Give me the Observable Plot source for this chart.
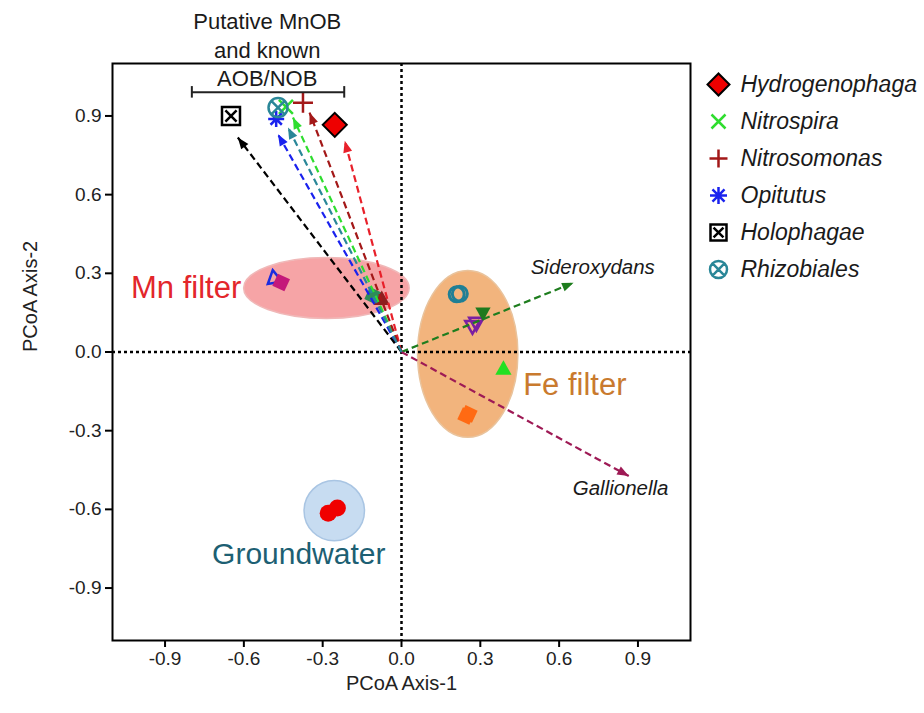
<!DOCTYPE html>
<html><head><meta charset="utf-8">
<script src="https://cdn.jsdelivr.net/npm/d3@7"></script>
<script src="https://cdn.jsdelivr.net/npm/@observablehq/plot@0.6"></script>
<style>
body{margin:0;background:#fff;font-family:"Liberation Sans",Arial,sans-serif;}
#wrap{position:relative;width:924px;height:713px;overflow:hidden;}
#legend{position:absolute;left:700px;top:60px;}
</style></head><body><div id="wrap"><div id="chart"></div><div id="legend"></div></div>
<script>
// ---- species vectors (PCoA loadings) ----
const species = ["Hydrogenophaga","Nitrospira","Nitrosomonas","Opitutus","Holophagae","Rhizobiales"];
const arrowTipX = [-0.216, -0.413, -0.35, -0.47, -0.623, -0.432];
const arrowTipY = [0.805, 0.894, 0.913, 0.83, 0.818, 0.856];
const markerX = [-0.254, -0.44, -0.375, -0.477, -0.649, -0.47];
const markerY = [0.866, 0.935, 0.95, 0.888, 0.90, 0.932];
const speciesShape = ["diamond","times","plus","asterisk","squareX","circleX"];
const speciesColor = ["#E8202A","#2FDD2F","#A31818","#1A22EE","#000000","#2A8798"];

// ---- environmental vectors ----
const envNames = ["Sideroxydans","Gallionella"];
const envTipX = [0.655, 0.865];
const envTipY = [0.264, -0.473];
const envLabelX = [0.728, 0.834];
const envLabelY = [0.324, -0.522];
const envColor = ["#1E7D1E","#9E1A55"];

// ---- sample groups (ellipses) ----
const groupNames = ["Mn filter","Fe filter","Groundwater"];
const groupCX = [-0.284, 0.254, -0.254];
const groupCY = [0.242, -0.009, -0.607];
const groupRX = [0.315, 0.191, 0.115];
const groupRY = [0.116, 0.318, 0.115];
const groupLabelX = [-0.61, 0.463, -0.391];
const groupLabelY = [0.244, -0.126, -0.77];
const groupFill = ["#F6A4A6","#F2B47D","#C7DCF1"];
const groupEdge = ["#F0B8B8","#E9C39C","#A9C5E3"];
const groupTextColor = ["#E3262B","#C97A2E","#1D5F73"];
const groupAnchor = ["end","start","middle"];
const groupFontSize = [31, 31, 30];

// ---- sample points ----
const sampleX = [-0.485, -0.458, -0.108, -0.075, 0.21, 0.222, 0.27, 0.285, 0.31, 0.388, 0.246, 0.256, -0.279, -0.244];
const sampleY = [0.282, 0.265, 0.214, 0.2, 0.22, 0.222, 0.10, 0.112, 0.15, -0.066, -0.244, -0.236, -0.615, -0.595];
const sampleShape = ["triangleOpen","squareFill","squareFill","triangleFill","ring","ring","triangleDownOpen","triangleDownOpen","triangleDownFill","triangleFill","squareFill","squareFill","circleFill","circleFill"];
const sampleColor = ["#1B2BE0","#C4187A","#2E8B5A","#8E1E1E","#1F7F95","#1F7F95","#7B1FA2","#7B1FA2","#1E7A1E","#22E022","#FF6A13","#FF6A13","#F00000","#F00000"];

// ---- annotations ----
const titleText = "Putative MnOB\nand known\nAOB/NOB";
const titleX = -0.511, titleY = 1.157;
const bracketX = [-0.798, -0.218], bracketY = 0.99, bracketCap = 0.022;
const ticks = [-0.9, -0.6, -0.3, 0.0, 0.3, 0.6, 0.9];
const fmt = d => d.toFixed(1);

// ---- custom symbols (size -> radius r) ----
const sym = f => ({draw(c, size){ f(c, Math.sqrt(size / Math.PI)); }});
const SYM = {
  diamond: sym((c,r)=>{c.moveTo(0,-r);c.lineTo(r,0);c.lineTo(0,r);c.lineTo(-r,0);c.closePath();}),
  times: sym((c,r)=>{c.moveTo(-r,-r);c.lineTo(r,r);c.moveTo(-r,r);c.lineTo(r,-r);}),
  plus: sym((c,r)=>{c.moveTo(-r,0);c.lineTo(r,0);c.moveTo(0,-r);c.lineTo(0,r);}),
  asterisk: sym((c,r)=>{for(let k=0;k<4;k++){const a=k*Math.PI/4,x=r*Math.cos(a),y=r*Math.sin(a);c.moveTo(-x,-y);c.lineTo(x,y);}}),
  squareX: sym((c,r)=>{c.moveTo(-r,-r);c.lineTo(r,-r);c.lineTo(r,r);c.lineTo(-r,r);c.closePath();const q=r*0.62;c.moveTo(-q,-q);c.lineTo(q,q);c.moveTo(-q,q);c.lineTo(q,-q);}),
  circleX: sym((c,r)=>{c.moveTo(r,0);c.arc(0,0,r,0,2*Math.PI);const q=r*0.7071;c.moveTo(-q,-q);c.lineTo(q,q);c.moveTo(-q,q);c.lineTo(q,-q);}),
  head: sym((c,r)=>{c.moveTo(0,0);c.lineTo(r*0.45,r*1.15);c.lineTo(-r*0.45,r*1.15);c.closePath();}),
  tri: sym((c,r)=>{c.moveTo(0,-r);c.lineTo(r*0.9,r*0.6);c.lineTo(-r*0.9,r*0.6);c.closePath();}),
  triDown: sym((c,r)=>{c.moveTo(0,r);c.lineTo(r*0.9,-r*0.6);c.lineTo(-r*0.9,-r*0.6);c.closePath();})
};
const speciesStyle = {
  diamond: {r: 12, fill: "#EE0000", stroke: "#000", strokeWidth: 2},
  times: {r: 7, fill: "none", strokeWidth: 2.5},
  plus: {r: 10, fill: "none", strokeWidth: 2.5},
  asterisk: {r: 8, fill: "none", strokeWidth: 2.5},
  squareX: {r: 9, fill: "#fff", stroke: "#000", strokeWidth: 2.5},
  circleX: {r: 9.5, fill: "none", strokeWidth: 2.5}
};
const legendR = {diamond: 11, times: 7, plus: 9, asterisk: 8.5, squareX: 8, circleX: 8.5};
const sampleStyle = {
  triangleOpen: {symbol: SYM.tri, r: 8, fill: "none", strokeWidth: 2.5, rotate: -10},
  squareFill: {symbol: "square", r: 7.5, rotate: 25},
  triangleFill: {symbol: SYM.tri, r: 9},
  ring: {symbol: "circle", r: 7.5, fill: "none", strokeWidth: 3},
  triangleDownOpen: {symbol: SYM.triDown, r: 8, fill: "none", strokeWidth: 2.5},
  triangleDownFill: {symbol: SYM.triDown, r: 8.5},
  circleFill: {symbol: "circle", r: 8.5}
};

const deg = (vx, vy) => Math.atan2(vx, vy) * 180 / Math.PI;

// ellipses drawn through the plot's own x/y scales
function ellipseMark(index, scales) {
  const g = d3.create("svg:g");
  groupNames.forEach((n, i) => {
    const cx = scales.x(groupCX[i]), cy = scales.y(groupCY[i]);
    g.append("ellipse")
      .attr("cx", cx).attr("cy", cy)
      .attr("rx", Math.abs(scales.x(groupCX[i] + groupRX[i]) - cx))
      .attr("ry", Math.abs(scales.y(groupCY[i] + groupRY[i]) - cy))
      .attr("fill", groupFill[i]).attr("stroke", groupEdge[i]).attr("stroke-width", 1.5);
  });
  return g.node();
}

const marks = [
  ellipseMark,
  Plot.ruleX([0], {stroke: "#000", strokeWidth: 2.5, strokeDasharray: "3,3"}),
  Plot.ruleY([0], {stroke: "#000", strokeWidth: 2.5, strokeDasharray: "3,3"}),
  Plot.frame({stroke: "#000", strokeWidth: 2}),
  Plot.axisX({ticks, tickFormat: fmt, tickSize: 7, tickPadding: 4, fontSize: 19, stroke: "#000", strokeWidth: 2, fill: "#222", label: null}),
  Plot.axisY({ticks, tickFormat: fmt, tickSize: 7, tickPadding: 4, fontSize: 19, stroke: "#000", strokeWidth: 2, fill: "#222", label: null}),
  Plot.text(["PCoA Axis-1"], {frameAnchor: "bottom", dy: 49, text: d => d, fontSize: 20, fill: "#222"}),
  Plot.text(["PCoA Axis-2"], {frameAnchor: "left", dx: -82, rotate: -90, text: d => d, fontSize: 20, fill: "#222"}),
  // group labels
  ...groupNames.map((n, i) => Plot.text([n], {x: () => groupLabelX[i], y: () => groupLabelY[i], text: d => d, fontSize: groupFontSize[i], fill: groupTextColor[i], textAnchor: groupAnchor[i]})),
  // sample points
  ...sampleX.map((_, i) => {
    const s = sampleStyle[sampleShape[i]];
    const filled = s.fill !== "none";
    return Plot.dot([i], {x: d => sampleX[d], y: d => sampleY[d], symbol: s.symbol, r: s.r, rotate: s.rotate || 0,
      fill: filled ? sampleColor[i] : "none", stroke: filled ? "none" : sampleColor[i], strokeWidth: s.strokeWidth || 1});
  }),
  // environmental arrows
  Plot.link(envNames.map((n, i) => i), {x1: () => 0, y1: () => 0, x2: i => envTipX[i], y2: i => envTipY[i], stroke: i => envColor[i], strokeWidth: 2.2, strokeDasharray: "7,4"}),
  ...envNames.map((n, i) => Plot.dot([i], {x: d => envTipX[d], y: d => envTipY[d], symbol: SYM.head, r: 10, fill: envColor[i], rotate: deg(envTipX[i], envTipY[i])})),
  Plot.text(envNames, {x: (d, i) => envLabelX[i], y: (d, i) => envLabelY[i], text: d => d, fontSize: 20.5, fontStyle: "italic", fill: "#1a1a1a"}),
  // species arrows
  Plot.link(species.map((n, i) => i), {x1: () => 0, y1: () => 0, x2: i => arrowTipX[i], y2: i => arrowTipY[i], stroke: i => speciesColor[i], strokeWidth: 2.2, strokeDasharray: "7,4"}),
  ...species.map((n, i) => Plot.dot([i], {x: d => arrowTipX[d], y: d => arrowTipY[d], symbol: SYM.head, r: 10, fill: speciesColor[i], rotate: deg(arrowTipX[i], arrowTipY[i])})),
  // species markers
  ...species.map((n, i) => {
    const st = speciesStyle[speciesShape[i]];
    return Plot.dot([i], {x: d => markerX[d], y: d => markerY[d], symbol: SYM[speciesShape[i]], r: st.r, fill: st.fill, stroke: st.stroke || speciesColor[i], strokeWidth: st.strokeWidth});
  }),
  // bracket + title
  Plot.link([0], {x1: () => bracketX[0], x2: () => bracketX[1], y1: () => bracketY, y2: () => bracketY, stroke: "#222", strokeWidth: 2}),
  Plot.ruleX(bracketX, {y1: bracketY - bracketCap, y2: bracketY + bracketCap, stroke: "#222", strokeWidth: 2}),
  Plot.text([titleText], {x: () => titleX, y: () => titleY, text: d => d, fontSize: 22, lineHeight: 1.3, fill: "#1a1a1a"})
];

const chart = Plot.plot({
  width: 924, height: 713,
  marginLeft: 112, marginRight: 234, marginTop: 63, marginBottom: 73,
  x: {domain: [-1.1, 1.1]},
  y: {domain: [-1.1, 1.1]},
  style: {fontFamily: "'Liberation Sans', Arial, sans-serif", overflow: "visible", background: "transparent"},
  marks
});
document.getElementById("chart").append(chart);

const legend = Plot.plot({
  width: 224, height: 240, marginLeft: 18, marginRight: 0, marginTop: 22, marginBottom: 30,
  x: {domain: [0, 1], axis: null},
  y: {type: "point", domain: species, axis: null, padding: 0},
  style: {fontFamily: "'Liberation Sans', Arial, sans-serif", overflow: "visible", background: "transparent"},
  marks: [
    ...species.map((n, i) => {
      const st = speciesStyle[speciesShape[i]];
      return Plot.dot([n], {x: () => 0, y: d => d, symbol: SYM[speciesShape[i]], r: legendR[speciesShape[i]], fill: st.fill, stroke: st.stroke || speciesColor[i], strokeWidth: st.strokeWidth});
    }),
    Plot.text(species, {x: () => 0, y: d => d, dx: 22, text: d => d, textAnchor: "start", fontSize: 23, fontStyle: "italic", fill: "#1a1a1a"})
  ]
});
document.getElementById("legend").append(legend);
</script></body></html>
